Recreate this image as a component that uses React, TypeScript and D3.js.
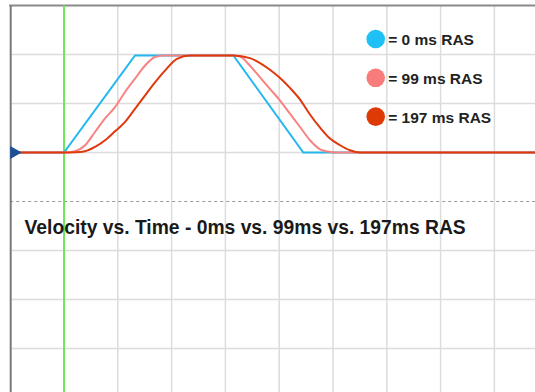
import React, { useEffect, useRef } from "react";
import * as d3 from "d3";

// time in ms (0 = trigger), velocity in % of set speed
const timeTicks = [-250, 0, 250, 500, 750, 1000, 1250, 1500, 1750, 2000, 2250];
const velTicks = [150, 100, 50, 0, -50, -100, -150, -200, -250];

const ras0: [number, number][] = [
  [-250, 0], [0, 0], [330, 99], [787, 99], [1112, 0], [2250, 0],
];
const ras99: [number, number][] = [
  [-250, 0], [0, 0], [51, 1.3], [98, 7.4], [144, 20.9], [191, 34.8], [237, 46.2],
  [283, 61.5], [330, 75.4], [376, 88.5], [423, 97.5], [469, 99], [787, 99],
  [818, 98], [864, 88.5], [911, 76.7], [957, 64.9], [1004, 53], [1050, 39.6],
  [1097, 26], [1143, 12.5], [1190, 3.3], [1236, 0.6], [1259, 0], [2250, 0],
];
const ras197: [number, number][] = [
  [-250, 0], [0, 0], [51, 0.2], [98, 1.3], [144, 5.7], [191, 12.5], [237, 21.6],
  [283, 31], [330, 44.6], [376, 58.1], [423, 71.6], [469, 83.5], [525, 95.6],
  [586, 99], [787, 99], [864, 96.3], [911, 91.3], [957, 84.5], [1004, 76],
  [1050, 65.9], [1097, 54], [1143, 38.8], [1190, 25.3], [1236, 14.2],
  [1283, 7.4], [1329, 2.3], [1376, 0], [2250, 0],
];

const seriesNames = ["= 0 ms RAS", "= 99 ms RAS", "= 197 ms RAS"];
const lineColors = ["#22b8ee", "#f98282", "#e0380c"];
const dotColors = ["#1ec0f5", "#f87c7c", "#dd3a05"];
const title = "Velocity vs. Time - 0ms vs. 99ms vs. 197ms RAS";

export default function App() {
  const ref = useRef<SVGSVGElement>(null);

  useEffect(() => {
    const W = 535;
    const H = 392;
    const svg = d3.select(ref.current);
    svg.selectAll("*").remove();

    const x = d3.scaleLinear().domain([-250, 2250]).range([10.2, 548.2]);
    const y = d3.scaleLinear().domain([-250, 150]).range([397.5, 5.5]);

    svg.append("rect").attr("width", W).attr("height", H).attr("fill", "#fff");

    // grid
    const grid = svg.append("g");
    grid
      .selectAll("line.v")
      .data(timeTicks.slice(1))
      .enter()
      .append("line")
      .attr("x1", (d) => x(d))
      .attr("x2", (d) => x(d))
      .attr("y1", y(150))
      .attr("y2", H)
      .attr("stroke", "#dcdcdc")
      .attr("stroke-width", 1.5);
    grid
      .selectAll("line.h")
      .data(velTicks.slice(1))
      .enter()
      .append("line")
      .attr("x1", x(-250))
      .attr("x2", W)
      .attr("y1", (d) => y(d))
      .attr("y2", (d) => y(d))
      .attr("stroke", (d) => (d === -50 ? "#9a9a9a" : "#dcdcdc"))
      .attr("stroke-width", (d) => (d === -50 ? 1 : 1.5))
      .attr("stroke-dasharray", (d) => (d === -50 ? "3,3" : null));

    // frame
    svg
      .append("line")
      .attr("x1", x(-250) - 1)
      .attr("x2", W)
      .attr("y1", y(150))
      .attr("y2", y(150))
      .attr("stroke", "#8a8a8a")
      .attr("stroke-width", 2);
    svg
      .append("line")
      .attr("x1", x(-250) + 0.5)
      .attr("x2", x(-250) + 0.5)
      .attr("y1", y(150))
      .attr("y2", H)
      .attr("stroke", "#7a7a7a")
      .attr("stroke-width", 2);

    // trigger line
    svg
      .append("line")
      .attr("x1", x(0))
      .attr("x2", x(0))
      .attr("y1", y(150))
      .attr("y2", H)
      .attr("stroke", "#6ee85a")
      .attr("stroke-width", 2);

    // title
    svg
      .append("text")
      .attr("x", 24.5)
      .attr("y", 233.5)
      .attr("font-family", "'Liberation Sans', Arial, sans-serif")
      .attr("font-weight", "bold")
      .attr("font-size", 19.3)
      .attr("fill", "#1a1a1a")
      .text(title);

    // traces: raw profile is piecewise linear, smoothed ones get a soft curve
    const straight = d3
      .line<[number, number]>()
      .x((d) => x(d[0]))
      .y((d) => y(d[1]));
    const smooth = d3
      .line<[number, number]>()
      .x((d) => x(d[0]))
      .y((d) => y(d[1]))
      .curve(d3.curveMonotoneX);
    [ras0, ras99, ras197].forEach((s, i) => {
      svg
        .append("path")
        .attr("d", i === 0 ? straight(s) : smooth(s))
        .attr("fill", "none")
        .attr("stroke", lineColors[i])
        .attr("stroke-width", 2);
    });

    // zero marker
    const y0 = y(0);
    const x0 = x(-250);
    svg
      .append("path")
      .attr("d", `M${x0},${y0 - 6.5}L${x0 + 11.5},${y0}L${x0},${y0 + 6.5}Z`)
      .attr("fill", "#1c4f96");

    // legend
    const legend = svg
      .append("g")
      .selectAll("g")
      .data(seriesNames)
      .enter()
      .append("g")
      .attr("transform", (d, i) => `translate(375.7,${39 + i * 38.8})`);
    legend
      .append("circle")
      .attr("r", 9.3)
      .attr("fill", (d, i) => dotColors[i]);
    legend
      .append("text")
      .attr("x", 12.5)
      .attr("y", 6)
      .attr("font-family", "'Liberation Sans', Arial, sans-serif")
      .attr("font-weight", "bold")
      .attr("font-size", 15.5)
      .attr("fill", "#222")
      .text((d) => d);
  });

  return (
    <svg
      ref={ref}
      width={535}
      height={392}
      style={{ position: "absolute", left: 0, top: 0 }}
    />
  );
}
